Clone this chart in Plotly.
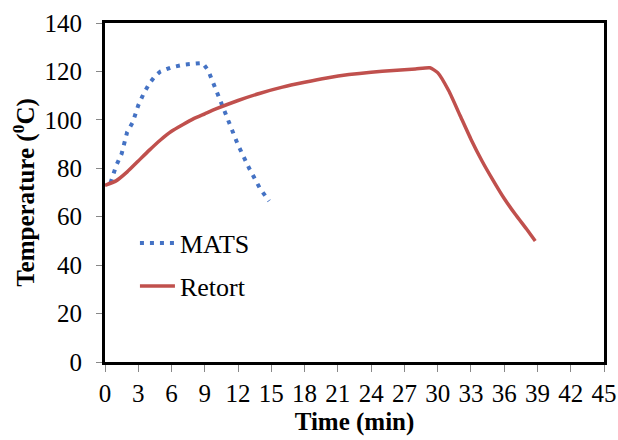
import plotly.graph_objects as go

# MATS (dotted blue)
mats_t = [0.5, 1, 1.5, 2, 2.5, 3, 3.5, 4, 4.5, 5, 6, 7, 8, 8.8, 9.3, 10, 11, 12, 13, 14, 14.8]
mats_T = [74, 81, 86, 95, 99, 106, 111, 115, 118, 120, 121.7, 122.7, 123.2, 123.5, 120.5, 112.6, 101, 89.6, 80, 71.5, 66.5]

# Retort (solid red)
retort_t = [0, 1, 2, 3, 4, 5, 6, 7, 8, 9, 10, 12, 14, 16, 18, 20, 22, 24, 26, 28, 29.3,
            30, 31, 32, 33, 34, 35, 36, 37, 38, 38.8]
retort_T = [73, 74.8, 78.5, 83, 87.5, 91.7, 95.3, 98, 100.5, 102.5, 104.5, 108, 111, 113.5, 115.5,
            117.3, 118.7, 119.7, 120.4, 121, 121.5, 119.5, 112, 102, 92, 83, 75, 67.5, 61, 55, 50]

x_ticks = list(range(0, 46, 3))
y_ticks = list(range(0, 141, 20))

FONT = "Liberation Serif"

fig = go.Figure()
fig.add_trace(go.Scatter(x=mats_t, y=mats_T, mode="lines", name="MATS", legend="legend",
                         line=dict(color="#4472C4", width=4, dash="4px,6px")))
fig.add_trace(go.Scatter(x=retort_t, y=retort_T, mode="lines", name="Retort", legend="legend2",
                         line=dict(color="#C0504D", width=3.5, shape="spline", smoothing=0.5)))

leg_common = dict(xanchor="left", yanchor="middle", bgcolor="rgba(0,0,0,0)", itemwidth=35,
                  font=dict(family=FONT, size=26, color="black"))

fig.update_layout(
    width=618, height=440,
    margin=dict(l=105, r=14, t=23, b=78, autoexpand=False),
    paper_bgcolor="white", plot_bgcolor="white",
    font=dict(family=FONT, size=25, color="black"),
    showlegend=True,
    legend=dict(x=0.06, y=0.351, **leg_common),
    legend2=dict(x=0.06, y=0.224, **leg_common),
)
fig.update_xaxes(range=[0, 45], tickvals=x_ticks, ticktext=[str(v) for v in x_ticks],
                 showgrid=False, zeroline=False, showline=True, linecolor="black", linewidth=3,
                 mirror=True, ticks="outside", ticklen=7, tickcolor="#888888", tickwidth=1,
                 ticklabelstandoff=0, automargin=False,
                 title=dict(text="<b>Time (min)</b>", font=dict(family=FONT, size=25), standoff=7))
fig.update_yaxes(range=[0, 140], tickvals=y_ticks, ticktext=[str(v) for v in y_ticks],
                 showgrid=False, zeroline=False, showline=True, linecolor="black", linewidth=3,
                 mirror=True, ticks="outside", ticklen=6, tickcolor="#888888", tickwidth=1,
                 ticklabelstandoff=9, automargin=False,
                 title=dict(text="<b>Temperature (<sup>0</sup>C)</b>", font=dict(family=FONT, size=25), standoff=3))

fig.write_html("out.html", config={"displayModeBar": False},
               post_script="document.body.style.margin='0';document.body.style.overflow='hidden';")
